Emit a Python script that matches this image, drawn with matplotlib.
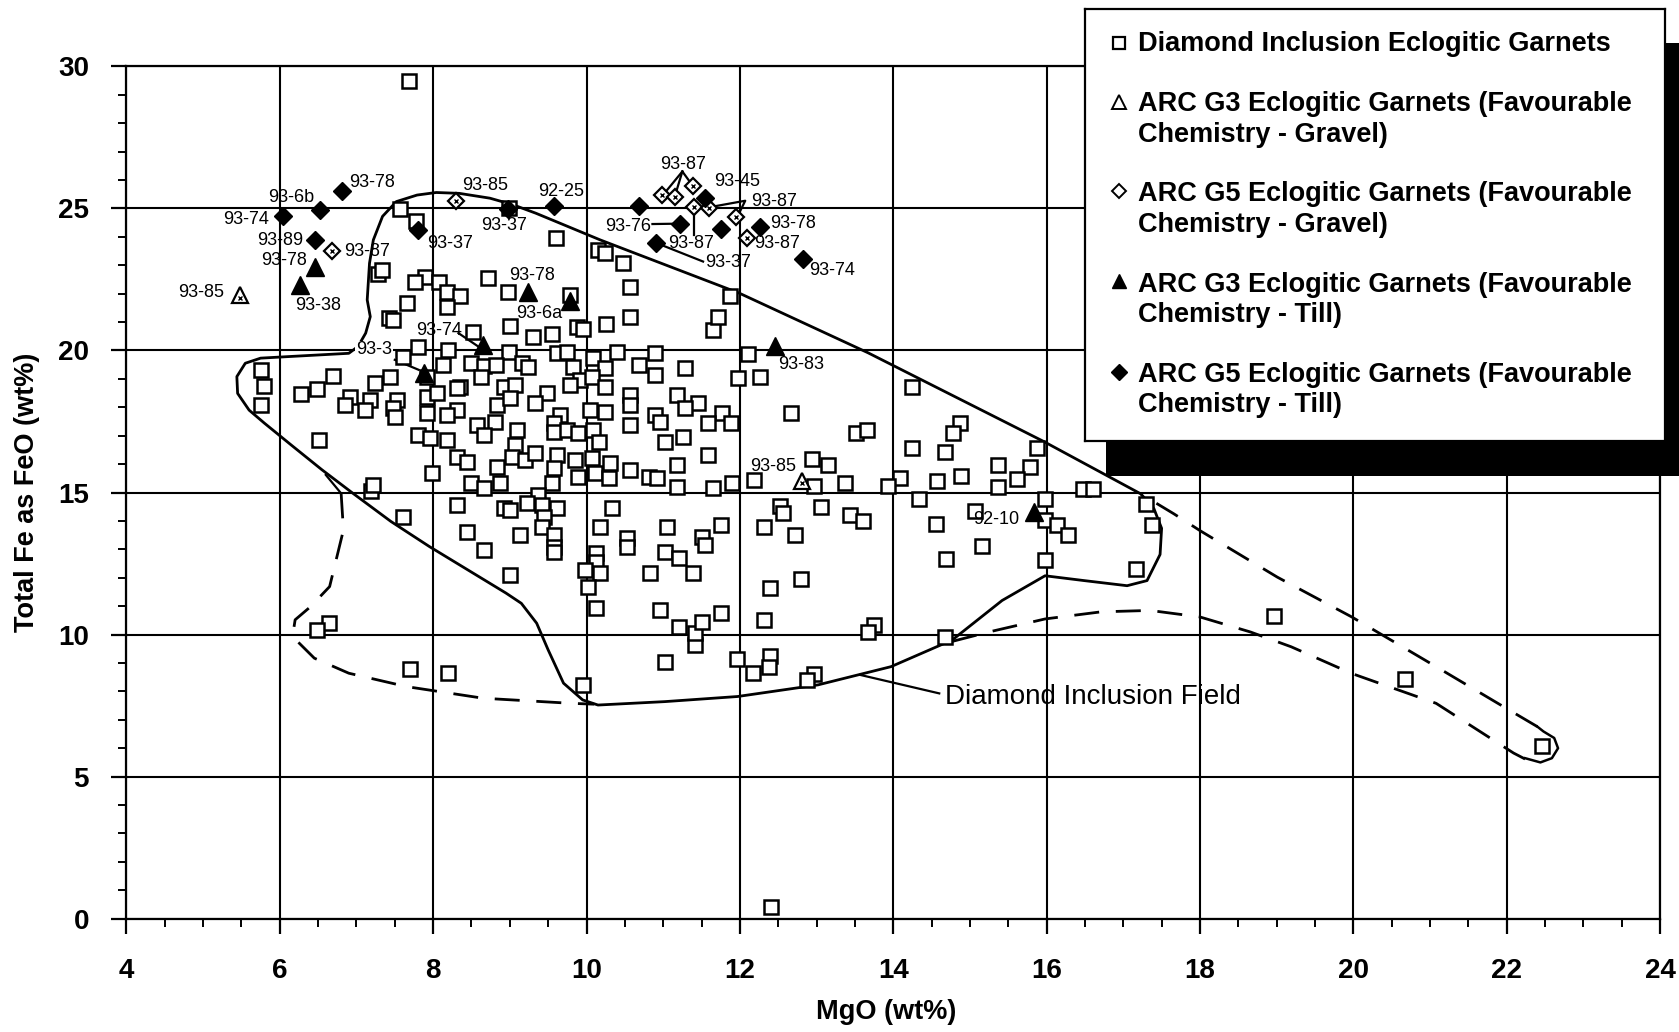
import matplotlib
matplotlib.use("Agg")
import matplotlib.pyplot as plt
from matplotlib.patches import Rectangle
from matplotlib.lines import Line2D
from matplotlib.ticker import MultipleLocator

plt.rcParams["font.family"] = ["Liberation Sans", "DejaVu Sans"]

# Diamond inclusion eclogitic garnets (MgO, FeO) - open squares
sq_points = [
    (7.69, 29.5), (7.57, 24.98), (7.77, 24.54), (8.99, 25.0), (7.28, 22.7),
    (9.6, 23.95), (10.15, 23.55), (11.87, 21.93), (12.11, 19.88), (11.97, 19.02),
    (12.26, 19.08), (14.24, 18.73), (11.77, 17.79), (11.88, 17.43),
    (5.75, 19.31), (5.79, 18.75), (5.76, 18.08), (6.28, 18.46), (6.49, 18.63),
    (6.7, 19.1), (6.51, 16.85), (7.19, 15.05), (6.64, 10.42), (6.48, 10.16),
    (7.7, 8.78), (8.19, 8.64),
    (7.33, 22.83), (7.9, 22.58), (7.76, 22.42), (8.07, 22.42), (8.18, 22.07),
    (8.35, 21.9), (8.18, 21.54), (7.66, 21.66), (7.42, 21.13), (7.48, 21.07),
    (8.71, 22.54), (8.98, 22.07), (9.0, 20.86), (8.52, 20.66), (7.8, 20.13),
    (8.2, 20.02), (8.99, 19.96), (7.61, 19.78), (8.13, 19.49), (8.49, 19.55),
    (8.66, 19.46), (8.82, 19.49), (9.16, 19.55), (7.44, 19.08), (7.24, 18.87),
    (7.92, 19.08), (8.63, 19.08), (8.35, 18.73), (8.92, 18.73), (9.07, 18.79),
    (6.92, 18.37), (7.18, 18.26), (7.53, 18.26), (7.92, 18.37), (8.05, 18.49),
    (8.31, 18.67), (8.83, 18.08), (9.0, 18.32), (8.31, 17.9), (6.85, 18.08),
    (7.11, 17.9), (7.48, 17.96), (7.92, 17.79),
    (10.24, 23.42), (10.47, 23.07), (10.57, 22.25), (10.57, 21.19), (9.79, 21.96),
    (10.26, 20.93), (9.87, 20.82), (9.96, 20.75), (9.55, 20.58), (9.3, 20.49),
    (11.65, 20.72), (11.72, 21.19), (9.62, 19.9), (9.74, 19.96), (10.4, 19.96),
    (10.89, 19.9), (10.09, 19.73), (10.68, 19.49), (11.29, 19.37), (9.83, 19.43),
    (10.24, 19.37), (10.89, 19.14), (9.92, 18.96), (10.07, 19.08), (9.79, 18.79),
    (10.24, 18.73), (10.57, 18.44), (10.57, 18.08), (11.18, 18.44), (11.46, 18.14),
    (11.29, 17.96), (9.24, 19.43), (9.48, 18.49), (9.33, 18.14), (10.05, 17.9),
    (10.24, 17.85), (10.89, 17.73), (9.66, 17.73),
    (7.5, 17.67), (8.18, 17.73), (8.57, 17.38), (8.81, 17.49), (9.09, 17.2),
    (7.8, 17.03), (7.96, 16.91), (8.18, 16.85), (8.66, 17.03), (9.07, 16.67),
    (8.31, 16.26), (8.44, 16.09), (9.03, 16.26), (9.2, 16.15), (8.83, 15.91),
    (7.99, 15.7), (7.22, 15.27), (8.49, 15.33), (8.66, 15.15), (8.87, 15.33),
    (8.31, 14.56), (8.92, 14.45), (9.0, 14.39), (7.61, 14.15), (8.44, 13.62),
    (9.13, 13.5), (8.66, 12.98), (9.0, 12.1),
    (9.57, 17.44), (10.57, 17.38), (10.96, 17.49), (11.26, 16.97), (11.03, 16.79),
    (9.57, 17.14), (9.74, 17.2), (9.89, 17.08), (10.09, 17.2), (10.16, 16.79),
    (11.59, 17.44), (9.33, 16.38), (9.61, 16.32), (9.85, 16.15), (10.07, 16.21),
    (10.31, 16.03), (10.57, 15.79), (10.81, 15.56), (10.92, 15.5), (11.18, 15.97),
    (11.59, 16.32), (9.57, 15.85), (9.89, 15.56), (10.11, 15.68), (10.29, 15.5),
    (11.18, 15.21), (11.65, 15.15), (9.55, 15.33), (9.37, 14.91), (9.22, 14.62),
    (9.42, 14.56), (9.61, 14.45), (10.33, 14.45), (9.44, 14.15), (9.42, 13.8),
    (10.18, 13.8), (11.05, 13.8), (9.57, 13.5), (10.53, 13.39), (10.53, 13.1),
    (11.5, 13.45), (11.55, 13.15), (9.57, 13.1), (9.57, 12.92), (10.13, 12.86),
    (10.13, 12.57), (11.03, 12.92), (11.2, 12.69), (9.98, 12.27), (10.18, 12.16),
    (10.83, 12.16), (11.39, 12.16),
    (12.67, 17.79), (13.52, 17.09), (13.66, 17.2), (14.87, 17.46), (14.78, 17.09),
    (14.25, 16.56), (14.67, 16.44), (15.37, 15.97), (15.37, 15.19), (14.88, 15.59),
    (14.57, 15.39), (14.09, 15.5), (13.93, 15.23), (13.37, 15.33), (13.15, 15.97),
    (12.94, 16.17), (12.97, 15.23), (12.19, 15.44), (11.9, 15.35), (14.34, 14.76),
    (15.06, 14.35), (14.56, 13.88), (15.16, 13.12), (14.69, 12.65), (12.52, 14.51),
    (12.56, 14.27), (13.06, 14.48), (13.44, 14.21), (13.61, 14.01), (12.31, 13.77),
    (12.72, 13.51), (12.8, 11.95), (12.39, 11.65), (12.31, 10.52), (13.75, 10.32),
    (13.67, 10.08), (14.67, 9.9), (12.97, 8.62), (12.87, 8.4), (12.39, 9.23),
    (12.38, 8.87), (12.17, 8.64), (11.96, 9.13), (11.02, 9.05), (9.96, 8.23),
    (11.41, 9.64), (11.41, 10.05), (11.2, 10.28), (11.51, 10.46), (11.76, 10.75),
    (10.96, 10.87), (10.12, 10.93), (10.02, 11.69), (11.76, 13.86),
    (15.88, 16.55), (15.78, 15.9), (15.61, 15.46), (16.47, 15.11), (16.6, 15.14),
    (15.98, 14.77), (17.29, 14.6), (17.38, 13.85), (15.98, 14.02), (16.13, 13.85),
    (16.28, 13.51), (15.98, 12.64), (17.16, 12.3), (18.96, 10.65),
    (20.68, 8.42), (22.46, 6.09), (12.4, 0.4),
]

# ARC G3 eclogitic garnets, gravel (open triangles) and till (filled triangles)
g3_gravel_x = [5.48, 12.81]
g3_gravel_y = [21.94, 15.42]
g3_till_x = [6.46, 6.26, 9.24, 9.78, 8.65, 7.88, 12.46, 15.83]
g3_till_y = [22.95, 22.3, 22.05, 21.75, 20.2, 19.19, 20.17, 14.31]

# ARC G5 eclogitic garnets, gravel (open diamonds) and till (filled diamonds)
g5_gravel_x = [6.68, 8.3, 10.98, 11.15, 11.39, 11.4, 11.6, 11.95, 12.09]
g5_gravel_y = [23.5, 25.25, 25.48, 25.41, 25.78, 25.05, 25.03, 24.69, 23.97]
g5_till_x = [6.04, 6.53, 6.81, 6.46, 7.8, 8.97, 9.57, 10.68, 11.22, 11.75, 10.9, 11.55, 12.26, 12.82]
g5_till_y = [24.73, 24.95, 25.6, 23.9, 24.24, 24.99, 25.1, 25.07, 24.45, 24.28, 23.8, 25.35, 24.36, 23.21]

# sample labels
sample_labels = [
    ("93-78", 7.2, 25.9), ("93-6b", 6.15, 25.37), ("93-74", 5.56, 24.61),
    ("93-89", 6.01, 23.86), ("93-87", 7.14, 23.48), ("93-78", 6.05, 23.18),
    ("93-38", 6.5, 21.6), ("93-85", 4.98, 22.05), ("93-85", 8.68, 25.82),
    ("92-25", 9.67, 25.59), ("93-37", 8.93, 24.39), ("93-37", 8.22, 23.75),
    ("93-78", 9.29, 22.65), ("93-6a", 9.38, 21.3), ("93-74", 8.08, 20.69),
    ("93-87", 11.26, 26.54), ("93-45", 11.96, 25.93), ("93-87", 12.44, 25.25),
    ("93-76", 10.54, 24.35), ("93-78", 12.69, 24.46), ("93-87", 11.36, 23.78),
    ("93-87", 12.48, 23.78), ("93-37", 11.85, 23.11), ("93-74", 13.2, 22.8),
    ("93-83", 12.8, 19.52), ("93-85", 12.44, 15.91), ("92-10", 15.34, 14.05),
]
label_93_3 = ("93-3", 7.23, 20.02)

# leader lines from labels to symbols
leaders = [
    ([7.5, 7.81], [19.67, 19.32]),
    ([8.33, 8.61], [20.61, 20.1]),
    ([10.97, 11.52], [23.72, 23.13]),
    ([10.86, 11.12], [24.45, 24.46]),
    ([11.25, 11.0], [26.3, 25.48]),
    ([11.25, 11.15], [26.3, 25.41]),
    ([11.25, 11.39], [26.3, 25.78]),
    ([11.4, 11.4], [25.05, 24.07]),
    ([11.62, 12.07, 11.97], [25.05, 25.27, 24.72]),
    ([13.57, 14.6], [8.58, 7.93]),
]

# diamond inclusion field outline (solid)
field_x = [7.02, 7.12, 7.18, 7.14, 7.17, 7.22, 7.34, 7.52, 7.79, 8.04, 8.34, 8.74, 9.04,
           9.34, 10.18, 11.99, 13.67, 15.96, 17.23, 17.4, 17.5, 17.48, 17.31, 17.05,
           16.49, 15.98, 15.42, 14.77, 13.97, 13.02, 11.97, 11.02, 10.15, 9.95, 9.7,
           9.5, 9.35, 9.15, 8.95, 8.45, 7.95, 7.45, 6.95, 6.55, 6.15, 5.8, 5.6, 5.45,
           5.44, 5.55, 5.75, 6.15, 6.9, 7.02]
field_y = [20.14, 20.61, 21.19, 21.78, 23.07, 23.89, 24.72, 25.24, 25.47, 25.56, 25.53,
           25.36, 25.13, 24.83, 23.89, 22.02, 19.92, 16.8, 14.95, 14.43, 13.74, 12.82,
           11.9, 11.72, 11.9, 12.07, 11.2, 9.81, 8.87, 8.23, 7.82, 7.64, 7.52, 7.7, 8.29,
           9.46, 10.4, 11.1, 11.46, 12.28, 13.1, 13.98, 14.98, 15.8, 16.67, 17.44, 17.9,
           18.49, 19.08, 19.55, 19.73, 19.79, 19.9, 20.14]

# short solid stub where the left dashed outline branches off
stub_x = [6.6, 6.8]
stub_y = [15.62, 14.97]

# dashed outline, lower left
dash_left_x = [6.8, 6.83, 6.65, 6.4, 6.2, 6.18, 6.23, 6.45, 6.9, 7.65, 8.65, 9.8, 10.1]
dash_left_y = [14.97, 13.68, 11.69, 10.98, 10.52, 10.17, 9.76, 9.17, 8.64, 8.17, 7.76, 7.58, 7.55]

# dashed outline, high-MgO extension
dash_low_x = [14.77, 15.26, 15.98, 16.71, 17.35, 18.0, 18.66, 19.19, 19.98, 21.08, 22.09, 22.24]
dash_low_y = [9.76, 10.1, 10.55, 10.8, 10.85, 10.62, 10.09, 9.57, 8.63, 7.58, 5.83, 5.62]
dash_up_x = [22.4, 21.96, 21.08, 19.98, 19.01, 18.0, 17.66, 17.23]
dash_up_y = [6.76, 7.46, 8.87, 10.62, 12.02, 13.66, 14.25, 14.95]
end_arc_x = [22.24, 22.44, 22.59, 22.67, 22.62, 22.48, 22.4]
end_arc_y = [5.65, 5.5, 5.65, 6.0, 6.36, 6.59, 6.76]

legend_entries = [
    ("Diamond Inclusion Eclogitic Garnets", None),
    ("ARC G3 Eclogitic Garnets (Favourable", "Chemistry - Gravel)"),
    ("ARC G5 Eclogitic Garnets (Favourable", "Chemistry - Gravel)"),
    ("ARC G3 Eclogitic Garnets (Favourable", "Chemistry - Till)"),
    ("ARC G5 Eclogitic Garnets (Favourable", "Chemistry - Till)"),
]

fig = plt.figure(figsize=(16.79, 10.32), dpi=100)
ax = fig.add_axes([0.0753, 0.1098, 0.9134, 0.8259])

# outlines
ax.plot(field_x, field_y, color="black", lw=2.0, zorder=2, solid_joinstyle="round")
ax.plot(stub_x, stub_y, color="black", lw=1.6, zorder=2)
ax.plot(end_arc_x, end_arc_y, color="black", lw=1.8, zorder=2)
for xs, ys in [(dash_left_x, dash_left_y), (dash_low_x, dash_low_y), (dash_up_x, dash_up_y)]:
    ax.plot(xs, ys, color="black", lw=2.0, dashes=(9, 6), zorder=2)
for xs, ys in leaders:
    ax.plot(xs, ys, color="black", lw=1.6, zorder=2)

sq_x = [p[0] for p in sq_points]
sq_y = [p[1] for p in sq_points]
ax.plot(sq_x, sq_y, ls="none", marker="s", ms=10, mfc="white", mec="black", mew=1.8, zorder=3)

ax.plot(g3_gravel_x, g3_gravel_y, ls="none", marker="^", ms=12, mfc="white", mec="black", mew=1.6, zorder=4)
ax.plot(g3_gravel_x, [y - 0.1 for y in g3_gravel_y], ls="none", marker="x", ms=3.5, mec="black", mew=1.0, zorder=5)
ax.plot(g3_till_x, g3_till_y, ls="none", marker="^", ms=12.5, mfc="black", mec="black", zorder=4)
ax.plot(g5_gravel_x, g5_gravel_y, ls="none", marker="D", ms=8.5, mfc="white", mec="black", mew=1.6, zorder=4)
ax.plot(g5_gravel_x, g5_gravel_y, ls="none", marker="x", ms=3.5, mec="black", mew=1.0, zorder=5)
ax.plot(g5_till_x, g5_till_y, ls="none", marker="D", ms=9.5, mfc="black", mec="black", zorder=4)

for txt, x, y in sample_labels:
    ax.text(x, y, txt, fontsize=13, ha="center", va="center", zorder=6)
ax.text(label_93_3[1], label_93_3[2], label_93_3[0], fontsize=13, ha="center", va="center",
        zorder=6, bbox=dict(facecolor="white", edgecolor="none", pad=0.5))
ax.text(14.68, 7.8, "Diamond Inclusion Field", fontsize=20, ha="left", va="center", zorder=6)

ax.set_xlim(4, 24)
ax.set_ylim(0, 30)
ax.xaxis.set_major_locator(MultipleLocator(2))
ax.xaxis.set_minor_locator(MultipleLocator(0.5))
ax.yaxis.set_major_locator(MultipleLocator(5))
ax.yaxis.set_minor_locator(MultipleLocator(1))
ax.grid(True, which="major", color="black", lw=1.5)
ax.set_axisbelow(True)
for s in ax.spines.values():
    s.set_linewidth(1.6)
ax.tick_params(which="major", direction="out", length=11, width=1.6, labelsize=20)
ax.tick_params(axis="x", which="major", pad=17)
ax.tick_params(axis="y", which="major", pad=16)
ax.tick_params(which="minor", direction="out", length=6, width=1.4)
for lab in ax.get_xticklabels() + ax.get_yticklabels():
    lab.set_fontweight("bold")

fig.text(0.016, 0.523, "Total Fe as FeO (wt%)", rotation=90, fontsize=19.5, fontweight="bold",
         ha="center", va="center")
fig.text(0.528, 0.0194, "MgO (wt%)", fontsize=19.5, fontweight="bold", ha="center", va="center")

# legend box with black drop shadow
fig.patches.append(Rectangle((0.6587, 0.5388), 0.3413, 0.4192, transform=fig.transFigure,
                             facecolor="black", edgecolor="none", zorder=4))
lax = fig.add_axes([0.6462, 0.5727, 0.3455, 0.419], zorder=5)
lax.set_xlim(0, 1)
lax.set_ylim(0, 1)
lax.set_xticks([])
lax.set_yticks([])
for s in lax.spines.values():
    s.set_linewidth(1.6)

marker_y = [0.92, 0.785, 0.577, 0.369, 0.160]
line1_y = [0.918, 0.779, 0.571, 0.36, 0.153]
line2_y = [None, 0.707, 0.499, 0.291, 0.083]
legend_styles = [
    dict(marker="s", ms=8, mfc="white", mec="black", mew=1.6),
    dict(marker="^", ms=10, mfc="white", mec="black", mew=1.4),
    dict(marker="D", ms=7.5, mfc="white", mec="black", mew=1.4),
    dict(marker="^", ms=10, mfc="black", mec="black"),
    dict(marker="D", ms=8, mfc="black", mec="black"),
]
for i, (l1, l2) in enumerate(legend_entries):
    lax.add_line(Line2D([0.0586], [marker_y[i]], ls="none", **legend_styles[i]))
    lax.text(0.0914, line1_y[i], l1, fontsize=19.5, fontweight="bold", ha="left", va="center")
    if l2:
        lax.text(0.0914, line2_y[i], l2, fontsize=19.5, fontweight="bold", ha="left", va="center")

fig.savefig("out.png", dpi=100)
